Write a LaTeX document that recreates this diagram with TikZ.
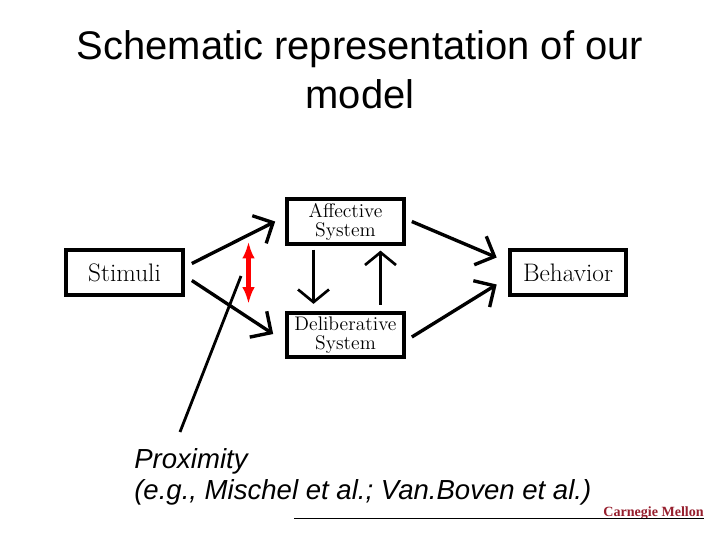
\documentclass[tikz,border=0pt]{standalone}
\usepackage{fontspec}
\usepackage{tikz}
\usetikzlibrary{arrows.meta}
\newfontfamily\slidefont{Liberation Sans}
\newfontfamily\logofont{Liberation Serif}
\definecolor{logored}{RGB}{150,30,45}
\tikzset{
	sysbox/.style={shape=rectangle, draw=black, line width=2.8pt, fill=white, minimum width=83pt, minimum height=31.5pt, inner sep=0pt, align=center, font=\fontsize{14}{13.5}\selectfont},
	thickarrow/.style={-{Straight Barb[length=11pt,width=22pt,line width=2.4pt]}, line width=2.4pt},
	thinarrow/.style={-{Straight Barb[length=9pt,width=22pt,line width=1.9pt]}, line width=1.9pt}
}
\begin{document}
\begin{tikzpicture}[x=0.025cm, y=-0.025cm]
	\useasboundingbox (0,0) rectangle (720,540);
	
	\node[font=\slidefont\fontsize{28.4}{35}\selectfont, align=center] (title) at (360,69.5) {Schematic representation of our\\model};
	
	\node[sysbox] (stimuli) at (124.5,272.5) {\fontsize{18}{19}\selectfont Stimuli};
	\node[sysbox] (affective) at (345.5,221.5) {Affective\\System};
	\node[sysbox] (deliberative) at (345.5,335) {Deliberative\\System};
	\node[sysbox] (behavior) at (568,272.5) {\fontsize{18}{19}\selectfont Behavior};
	\node[inner sep=0pt, align=left, font=\slidefont\itshape\fontsize{19.6}{22}\selectfont, anchor=north west] (proximity) at (134,448) {Proximity\\(e.g., Mischel et al.; Van.Boven et al.)};
	\node[inner sep=0pt, text=logored, font=\logofont\bfseries\fontsize{10}{11}\selectfont, anchor=east] (logo) at (704,513) {Carnegie Mellon};
	
	\coordinate (proxend) at (241,276);
	\coordinate (proxstart) at (180,432);
	\coordinate (rulestart) at (294,518);
	\coordinate (ruleend) at (704,518);
	
	\path[thickarrow] ([shift={(7,-9)}]stimuli.east) edge ([shift={(-10,0)}]affective.west);
	\path[thickarrow] ([shift={(7,8)}]stimuli.east) edge ([shift={(-12,-1)}]deliberative.west);
	\path[thickarrow] ([shift={(6,0)}]affective.east) edge ([shift={(-11,-15)}]behavior.west);
	\path[thickarrow] ([shift={(6,2)}]deliberative.east) edge ([shift={(-11,12)}]behavior.west);
	\path[thinarrow] ([shift={(-32,4)}]affective.south) edge ([shift={(-32,-7)}]deliberative.north);
	\path[thinarrow] ([shift={(35,-6)}]deliberative.north) edge ([shift={(35,5)}]affective.south);
	\path[{Latex[length=12pt,width=9pt]}-{Latex[length=12pt,width=9pt]}, red, line width=3.4pt] ([shift={(-97,-4)}]affective.south) edge ([shift={(-97,-7)}]deliberative.north);
	\path[-, line width=2pt] (proxstart) edge (proxend);
	\path[-, line width=0.7pt] (rulestart) edge (ruleend);
	
\end{tikzpicture}
\end{document}
